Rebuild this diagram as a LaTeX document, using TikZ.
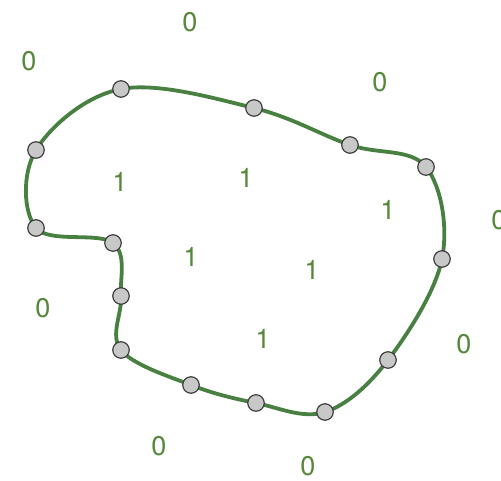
\documentclass[tikz,border=0pt]{standalone}
\usepackage{fontspec}
\setmainfont{TeX Gyre Heros}
\definecolor{curvegreen}{RGB}{72,128,66}
\definecolor{labelgreen}{RGB}{86,136,60}
\definecolor{dotgray}{RGB}{200,200,200}
\begin{document}
\begin{tikzpicture}[x=1pt, y=-1pt,
    dot/.style={circle, draw=black!75, fill=dotgray, line width=1.2pt, minimum size=16.5pt, inner sep=0pt},
    val/.style={font=\fontsize{27}{30}\selectfont, text=labelgreen}]
    \useasboundingbox (0,0) rectangle (501,480);

    % Punkte auf der Kurve
    \foreach \n/\px/\py in {1/121/89, 2/254/108, 3/350/145, 4/426/167, 5/442/259,
        6/388/360, 7/325/412, 8/256/403, 9/191/385, 10/121/350, 11/121/296,
        12/113/243, 13/36/228, 14/36/150}
        \coordinate (p\n) at (\px,\py);

    % Geschlossene Kurve
    \draw[curvegreen, line width=3.8pt, line join=round]
        plot[smooth cycle, tension=0.6] coordinates {(p1) (p2) (p3) (p4) (p5) (p6) (p7)
            (p8) (p9) (p10) (p11) (p12) (p13) (p14)};

    \foreach \n in {1,...,14}
        \node[dot] (d\n) at (p\n) {};

    % Werte aussen
    \node[val] (o1) at (190,22) {0};
    \node[val] (o2) at (29,61) {0};
    \node[val] (o3) at (380,82) {0};
    \node[val] (o4) at (499,220) {0};
    \node[val] (o5) at (43,308) {0};
    \node[val] (o6) at (464,344) {0};
    \node[val] (o7) at (159,446) {0};
    \node[val] (o8) at (308,466) {0};

    % Werte innen
    \node[val] (i1) at (120,182) {1};
    \node[val] (i2) at (246,178) {1};
    \node[val] (i3) at (388,210) {1};
    \node[val] (i4) at (191,257) {1};
    \node[val] (i5) at (312,270) {1};
    \node[val] (i6) at (263,339) {1};
\end{tikzpicture}
\end{document}
